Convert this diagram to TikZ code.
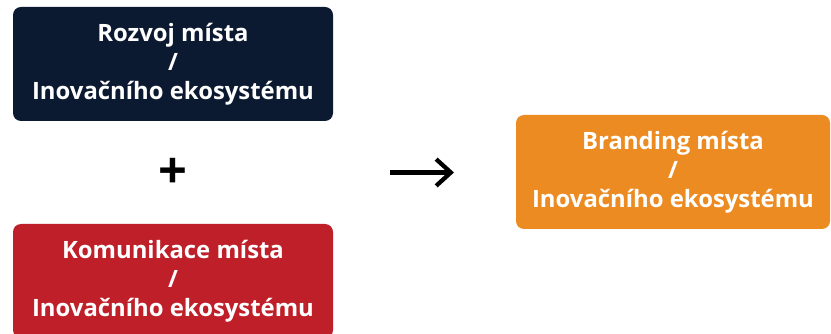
\documentclass[tikz,border=0pt]{standalone}
\usepackage{fontspec}
\setmainfont{Open Sans}
\usetikzlibrary{arrows.meta}
\definecolor{navy}{HTML}{0C1A31}
\definecolor{cred}{HTML}{BE1F28}
\definecolor{corange}{HTML}{EC8B21}
\tikzset{
  box/.style={rectangle, rounded corners=6pt, inner sep=0pt, align=center,
    text=white, font=\bfseries\fontsize{17.9}{21.8}\selectfont,
    minimum height=85.5pt},
  sym/.style={font=\bfseries\fontsize{38}{38}\selectfont, inner sep=0pt},
  conn/.style={line width=3.2pt, -{Straight Barb[length=11pt,width=20pt,line width=3.2pt]}}
}
\begin{document}
\begin{tikzpicture}[x=0.75pt,y=-0.75pt]
\useasboundingbox (0,0) rectangle (831,334);
\clip (0,0) rectangle (831,334);
\node[box, fill=navy, minimum width=240pt] (rozvoj) at (173,64) {Rozvoj místa\\/\\Inovačního ekosystému};
\node[box, fill=cred, minimum width=240pt] (komun) at (173,281) {Komunikace místa\\/\\Inovačního ekosystému};
\node[box, fill=corange, minimum width=235.5pt] (brand) at (673,172) {Branding místa\\/\\Inovačního ekosystému};
\node[sym] (plus) at (172.5,173) {+};
\coordinate (a1) at (390,172.5);
\coordinate (a2) at (454,172.5);
\draw[conn] (a1) -- (a2);
\end{tikzpicture}
\end{document}
